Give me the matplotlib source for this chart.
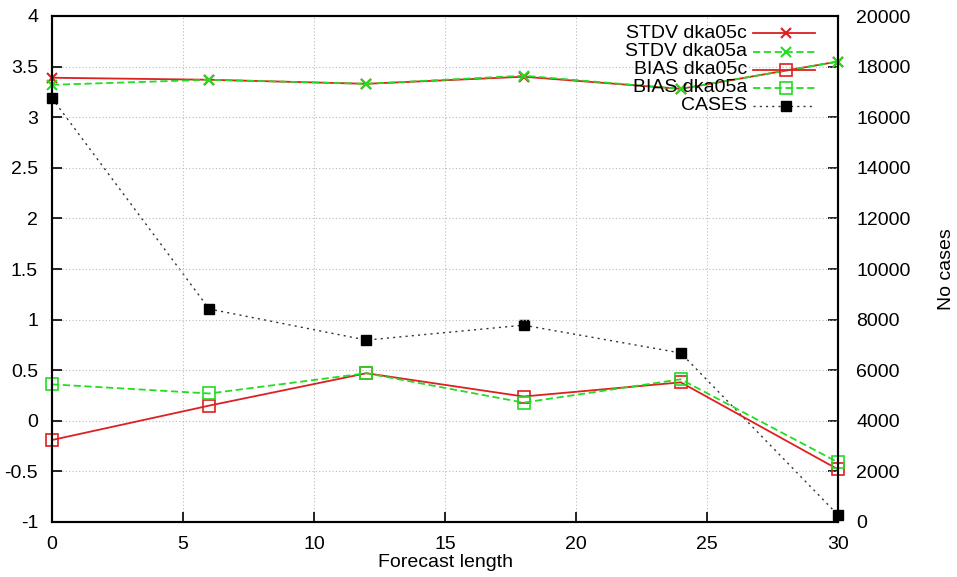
import matplotlib
matplotlib.use("Agg")
import matplotlib.pyplot as plt
from matplotlib.lines import Line2D

plt.rcParams['font.family'] = ['Liberation Sans', 'DejaVu Sans']

forecast = [0, 6, 12, 18, 24, 30]
stdv_c = [3.39, 3.37, 3.33, 3.40, 3.28, 3.55]
stdv_a = [3.32, 3.37, 3.33, 3.41, 3.28, 3.55]
bias_c = [-0.19, 0.15, 0.47, 0.24, 0.38, -0.48]
bias_a = [0.36, 0.27, 0.47, 0.18, 0.41, -0.41]
cases = [16750, 8420, 7190, 7780, 6680, 280]
labels = ['STDV dka05c', 'STDV dka05a', 'BIAS dka05c', 'BIAS dka05a', 'CASES']

W, H = 957, 577
fig = plt.figure(figsize=(W / 100, H / 100), dpi=100)
ax = fig.add_axes([52 / W, 1 - 522 / H, (838 - 52) / W, (522 - 16) / H])
ax2 = ax.twinx()

red = '#dd2020'
green = '#22dd22'

styles = [
    dict(color=red, lw=1.3, ls='-', marker='x', ms=7, mew=1.5),
    dict(color=green, lw=1.3, ls=(0, (4, 2)), marker='x', ms=7, mew=1.5),
    dict(color=red, lw=1.3, ls='-', marker='s', ms=9, mfc='none', mew=1.2),
    dict(color=green, lw=1.3, ls=(0, (4, 2)), marker='s', ms=9, mfc='none', mew=1.2),
    dict(color='#333333', lw=1.0, ls=(0, (1.5, 3)), marker='s', ms=7, mfc='black', mec='black'),
]

ax.plot(forecast, stdv_c, clip_on=False, **styles[0])
ax.plot(forecast, stdv_a, clip_on=False, **styles[1])
ax.plot(forecast, bias_c, clip_on=False, **styles[2])
ax.plot(forecast, bias_a, clip_on=False, **styles[3])
ax2.plot(forecast, cases, clip_on=False, **styles[4])

ax.set_xlim(0, 30)
ax.set_ylim(-1, 4)
ax2.set_ylim(0, 20000)
ax.set_xticks(range(0, 31, 5))
ax.set_yticks([-1, -0.5, 0, 0.5, 1, 1.5, 2, 2.5, 3, 3.5, 4])
ax.set_yticklabels(['-1', '-0.5', '0', '0.5', '1', '1.5', '2', '2.5', '3', '3.5', '4'])
ax2.set_yticks(range(0, 20001, 2000))

ax.grid(True, color='#bbbbbb', ls=(0, (1, 2)), lw=0.8)
ax.tick_params(axis='y', direction='in', length=7, width=1.2, labelsize=14, pad=10)
ax.tick_params(axis='x', direction='in', length=7, width=1.2, labelsize=14, pad=10)
ax2.tick_params(direction='in', length=7, width=1.2, labelsize=14, pad=13)
for a in (ax, ax2):
    for s in a.spines.values():
        s.set_linewidth(1.5)

ax.set_xlabel('Forecast length', fontsize=14, labelpad=1)
ax2.set_ylabel('No cases', fontsize=14, labelpad=20)

ax.set_zorder(ax2.get_zorder() + 1)
ax.patch.set_visible(False)

# manual legend (gnuplot style: right-aligned text, sample on the right)
row_y = [33, 52, 70, 88, 106]
for lab, st, py in zip(labels, styles, row_y):
    yf = 1 - py / H
    fig.text(747 / W, yf, lab, ha='right', va='center', fontsize=14)
    kw = dict(st)
    mk = {k: kw.pop(k) for k in ['marker', 'ms', 'mew', 'mfc', 'mec'] if k in kw}
    fig.add_artist(Line2D([753 / W, 815 / W], [yf, yf], transform=fig.transFigure, **kw))
    mkw = dict(color=st['color'], ls='none')
    mkw.update(mk)
    fig.add_artist(Line2D([786 / W], [yf], transform=fig.transFigure, **mkw))

fig.savefig('out.png', dpi=100)
